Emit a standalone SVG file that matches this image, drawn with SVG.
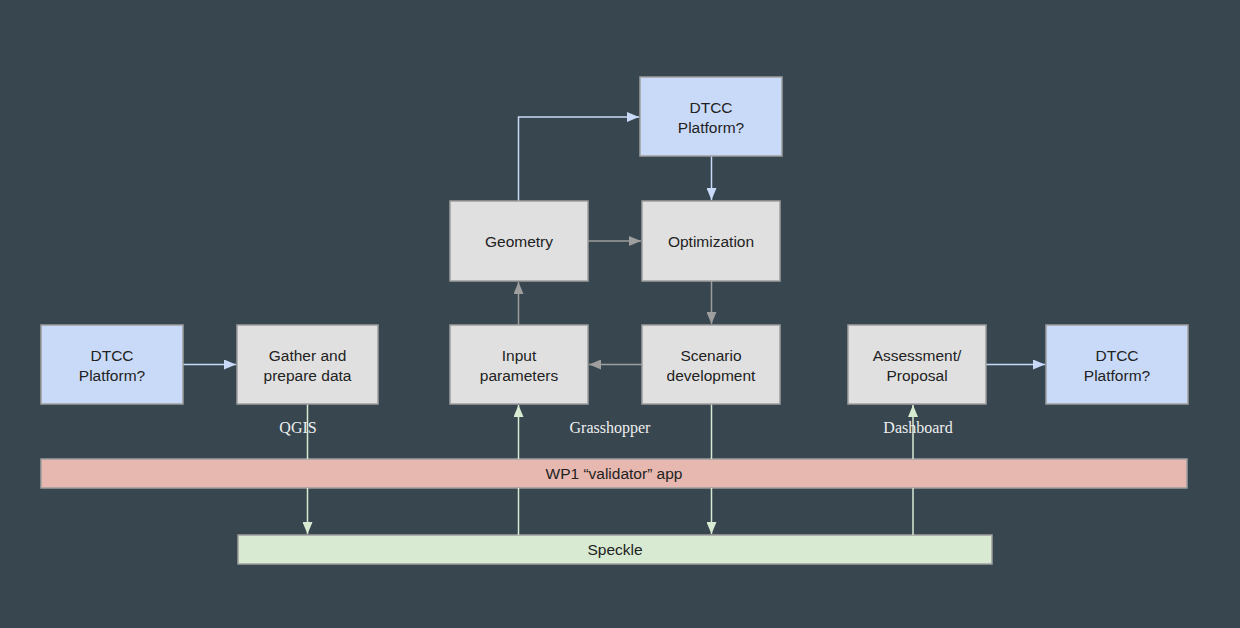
<svg xmlns="http://www.w3.org/2000/svg" width="1240" height="628" viewBox="0 0 1240 628">
<defs>
<style>
.box{stroke:#9e9e9e;stroke-width:1.5}
.gray{fill:#e0e0e0}
.blue{fill:#c9daf8}
.pink{fill:#e6b8af}
.green{fill:#d9ead3}
.t{font-family:"Liberation Sans",Arial,sans-serif;font-size:15.5px;fill:#222222;text-anchor:middle}
.lbl{font-family:"Liberation Serif","Times New Roman",serif;font-size:16px;fill:#eeeeee;text-anchor:middle}
.cb{stroke:#c9daf8;stroke-width:1.5;fill:none}
.cg{stroke:#9e9e9e;stroke-width:1.5;fill:none}
.cn{stroke:#d9ead3;stroke-width:1.5;fill:none}
</style>
<marker id="ab" viewBox="0 0 12 10" refX="12" refY="5" markerWidth="12" markerHeight="10" markerUnits="userSpaceOnUse" orient="auto"><path d="M0,0 L12,5 L0,10 z" fill="#c9daf8"/></marker>
<marker id="ag" viewBox="0 0 12 10" refX="12" refY="5" markerWidth="12" markerHeight="10" markerUnits="userSpaceOnUse" orient="auto"><path d="M0,0 L12,5 L0,10 z" fill="#9e9e9e"/></marker>
<marker id="an" viewBox="0 0 12 10" refX="12" refY="5" markerWidth="12" markerHeight="10" markerUnits="userSpaceOnUse" orient="auto"><path d="M0,0 L12,5 L0,10 z" fill="#d9ead3"/></marker>
</defs>
<rect x="0" y="0" width="1240" height="628" fill="#37464f"/>

<g id="wp1">
<rect class="box pink" x="41" y="459" width="1146" height="29"/>
<text class="t" x="614" y="479">WP1 “validator” app</text>
</g>
<g id="speckle">
<rect class="box green" x="238" y="535" width="754" height="29"/>
<text class="t" x="615" y="555">Speckle</text>
</g>

<g id="connectors">
<path class="cb" d="M183,364.5 H236" marker-end="url(#ab)"/>
<path class="cb" d="M986,364.5 H1045" marker-end="url(#ab)"/>
<path class="cb" d="M518.5,201 V117 H639" marker-end="url(#ab)"/>
<path class="cb" d="M711.5,156 V200" marker-end="url(#ab)"/>
<path class="cg" d="M588,241 H641" marker-end="url(#ag)"/>
<path class="cg" d="M711.5,281 V324" marker-end="url(#ag)"/>
<path class="cg" d="M642,364.5 H589" marker-end="url(#ag)"/>
<path class="cg" d="M518.5,325 V282" marker-end="url(#ag)"/>
<path class="cn" d="M307.5,404 V459"/>
<path class="cn" d="M307.5,488 V534" marker-end="url(#an)"/>
<path class="cn" d="M518.5,535 V488"/>
<path class="cn" d="M518.5,459 V405" marker-end="url(#an)"/>
<path class="cn" d="M711.5,404 V459"/>
<path class="cn" d="M711.5,488 V534" marker-end="url(#an)"/>
<path class="cn" d="M913,535 V488"/>
<path class="cn" d="M913,459 V405" marker-end="url(#an)"/>
</g>

<g id="dtcc-top">
<rect class="box blue" x="640" y="77" width="142" height="79"/>
<text class="t" x="711" y="113">DTCC</text>
<text class="t" x="711" y="133">Platform?</text>
</g>
<g id="geometry">
<rect class="box gray" x="450" y="201" width="138" height="80"/>
<text class="t" x="519" y="246.5">Geometry</text>
</g>
<g id="optimization">
<rect class="box gray" x="642" y="201" width="138" height="80"/>
<text class="t" x="711" y="246.5">Optimization</text>
</g>
<g id="dtcc-left">
<rect class="box blue" x="41" y="325" width="142" height="79"/>
<text class="t" x="112" y="361">DTCC</text>
<text class="t" x="112" y="381">Platform?</text>
</g>
<g id="gather">
<rect class="box gray" x="237" y="325" width="141" height="79"/>
<text class="t" x="307.5" y="361">Gather and</text>
<text class="t" x="307.5" y="381">prepare data</text>
</g>
<g id="input">
<rect class="box gray" x="450" y="325" width="138" height="79"/>
<text class="t" x="519" y="361">Input</text>
<text class="t" x="519" y="381">parameters</text>
</g>
<g id="scenario">
<rect class="box gray" x="642" y="325" width="138" height="79"/>
<text class="t" x="711" y="361">Scenario</text>
<text class="t" x="711" y="381">development</text>
</g>
<g id="assessment">
<rect class="box gray" x="848" y="325" width="138" height="79"/>
<text class="t" x="917" y="361">Assessment/</text>
<text class="t" x="917" y="381">Proposal</text>
</g>
<g id="dtcc-right">
<rect class="box blue" x="1046" y="325" width="142" height="79"/>
<text class="t" x="1117" y="361">DTCC</text>
<text class="t" x="1117" y="381">Platform?</text>
</g>

<g id="labels">
<text class="lbl" x="298" y="433">QGIS</text>
<text class="lbl" x="610" y="433">Grasshopper</text>
<text class="lbl" x="918" y="433">Dashboard</text>
</g>
</svg>
